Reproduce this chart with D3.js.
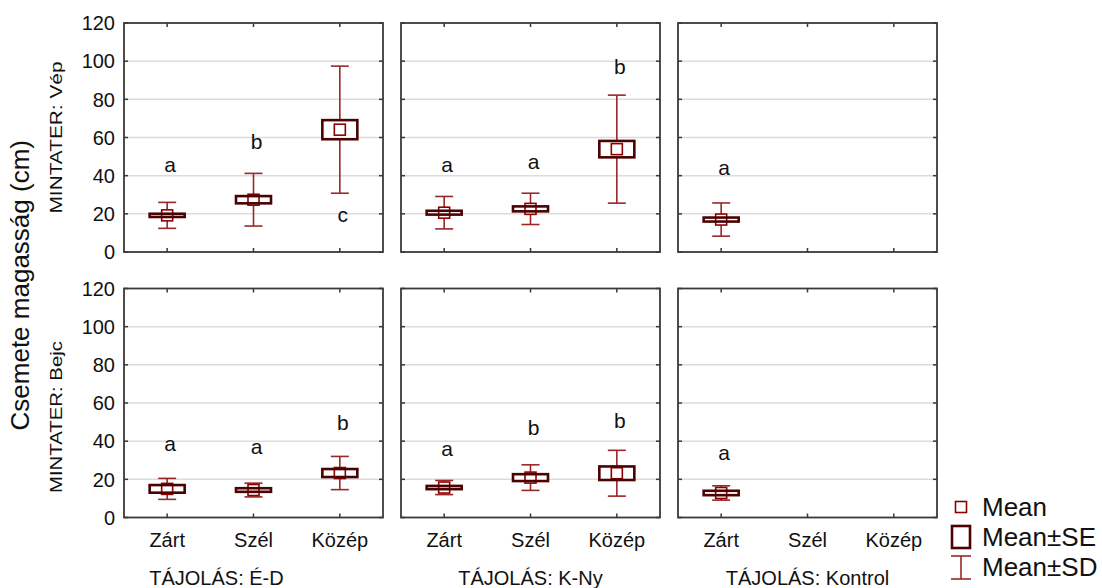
<!DOCTYPE html>
<html><head><meta charset="utf-8">
<script src="https://cdn.jsdelivr.net/npm/d3@7"></script>
<style>
html,body{margin:0;padding:0;background:#fff;}
svg{display:block;font-family:Arial,"Liberation Sans",sans-serif;}
</style>
</head><body>
<svg id="chart" width="1102" height="588"></svg>
<script>
// ---- data ----
const rowNames = ["Vép", "Bejc"];
const colNames = ["É-D", "K-Ny", "Kontrol"];
const categories = ["Zárt", "Szél", "Közép"];
const yTickValues = [0, 20, 40, 60, 80, 100, 120];
const yTitle = "Csemete magasság (cm)";
const rowPrefix = "MINTATER: ";
const colPrefix = "TÁJOLÁS: ";

// [row][col][category]
const means = [
  [[19.2, 27.4, 64.1], [20.6, 22.6, 53.9], [17.0, null, null]],
  [[15.0, 14.4, 23.3], [15.7, 20.9, 23.2], [12.85, null, null]]
];
const seValues = [
  [[0.85, 1.9, 5.0], [1.0, 1.3, 4.3], [1.05, null, null]],
  [[2.0, 0.95, 2.1], [0.85, 1.8, 3.55], [1.15, null, null]]
];
const sdValues = [
  [[6.8, 13.8, 33.3], [8.5, 8.2, 28.3], [8.7, null, null]],
  [[5.5, 3.6, 8.7], [3.7, 6.7, 12.0], [3.75, null, null]]
];
const groupLetters = [
  [["a", "b", "c"], ["a", "a", "b"], ["a", null, null]],
  [["a", "a", "b"], ["a", "b", "b"], ["a", null, null]]
];
const letterValues = [
  [[42.0, 54.0, 15.7], [42.0, 43.7, 93.5], [40.2, null, null]],
  [[34.6, 33.2, 46.0], [32.2, 43.3, 47.1], [30.3, null, null]]
];
const legendLabels = ["Mean", "Mean±SE", "Mean±SD"];

// ---- layout ----
const svg = d3.select("#chart");
const left = 124, panelW = 259, gapX = 18;
const top0 = 23, panelH = 229, gapY = 36.5;
const colX = d3.scaleBand().domain(d3.range(3)).range([left, left + 3 * panelW + 2 * gapX]).paddingInner(gapX / (panelW + gapX));
const rowY = d3.scaleBand().domain(d3.range(2)).range([top0, top0 + 2 * panelH + gapY]).paddingInner(gapY / (panelH + gapY));

const C = {
  frame: "#3a3a3a", grid: "#dcdcdc", box: "#4b0202", whisk: "#9a2828", mean: "#8e0000", text: "#111"
};
const FS = 20;

for (let r = 0; r < 2; r++) {
  for (let c = 0; c < 3; c++) {
    const x0 = colX(c), y0 = rowY(r), w = colX.bandwidth(), h = rowY.bandwidth();
    const g = svg.append("g").attr("transform", `translate(${x0},${y0})`);
    const x = d3.scaleBand().domain(categories).range([0, w]);
    const y = d3.scaleLinear().domain([0, 120]).range([h, 0]);
    const cx = d => x(d) + x.bandwidth() / 2;

    // grid
    g.selectAll("line.grid").data(yTickValues.filter(v => v > 0 && v < 120)).join("line")
      .attr("x1", 0).attr("x2", w).attr("y1", d => y(d)).attr("y2", d => y(d))
      .attr("stroke", C.grid).attr("stroke-width", 1.5);

    // ticks inside on all sides
    const tl = 4;
    g.selectAll("line.yt").data(yTickValues).join("line").attr("class", "yt")
      .attr("x1", 0).attr("x2", tl).attr("y1", d => y(d)).attr("y2", d => y(d))
      .attr("stroke", C.frame).attr("stroke-width", 1.5);
    g.selectAll("line.yt2").data(yTickValues).join("line").attr("class", "yt2")
      .attr("x1", w - tl).attr("x2", w).attr("y1", d => y(d)).attr("y2", d => y(d))
      .attr("stroke", C.frame).attr("stroke-width", 1.5);
    g.selectAll("line.xt").data(categories).join("line").attr("class", "xt")
      .attr("x1", d => cx(d)).attr("x2", d => cx(d)).attr("y1", h).attr("y2", h - tl)
      .attr("stroke", C.frame).attr("stroke-width", 1.5);
    g.selectAll("line.xt2").data(categories).join("line").attr("class", "xt2")
      .attr("x1", d => cx(d)).attr("x2", d => cx(d)).attr("y1", 0).attr("y2", tl)
      .attr("stroke", C.frame).attr("stroke-width", 1.5);

    // frame
    g.append("rect").attr("x", 0).attr("y", 0).attr("width", w).attr("height", h)
      .attr("fill", "none").attr("stroke", C.frame).attr("stroke-width", 1.8);

    // y tick labels on first column
    if (c === 0) {
      g.selectAll("text.yl").data(yTickValues).join("text").attr("class", "yl")
        .attr("x", -9).attr("y", d => y(d)).attr("dy", "0.36em")
        .attr("text-anchor", "end").attr("font-size", FS).attr("fill", C.text)
        .text(d => d);
    }
    // category labels on bottom row
    if (r === 1) {
      g.selectAll("text.xl").data(categories).join("text").attr("class", "xl")
        .attr("x", d => cx(d)).attr("y", h + 29)
        .attr("text-anchor", "middle").attr("font-size", FS).attr("fill", C.text)
        .text(d => d);
      g.append("text").attr("x", w / 2 + (c === 0 ? -37 : 0)).attr("y", h + 67)
        .attr("text-anchor", "middle").attr("font-size", FS).attr("fill", C.text)
        .text(colPrefix + colNames[c]);
    }

    const pts = categories.map((cat, i) => ({
      cat, m: means[r][c][i], se: seValues[r][c][i], sd: sdValues[r][c][i],
      letter: groupLetters[r][c][i], ly: letterValues[r][c][i]
    })).filter(d => d.m != null);

    const boxW = 35, capW = 18, mk = 11;
    // whiskers
    g.selectAll("line.wv").data(pts).join("line").attr("class", "wv")
      .attr("x1", d => cx(d.cat)).attr("x2", d => cx(d.cat))
      .attr("y1", d => y(d.m + d.sd)).attr("y2", d => y(d.m - d.sd))
      .attr("stroke", C.whisk).attr("stroke-width", 1.6);
    ["hi", "lo"].forEach(k => {
      g.selectAll("line.cap" + k).data(pts).join("line").attr("class", "cap" + k)
        .attr("x1", d => cx(d.cat) - capW / 2).attr("x2", d => cx(d.cat) + capW / 2)
        .attr("y1", d => y(k === "hi" ? d.m + d.sd : d.m - d.sd))
        .attr("y2", d => y(k === "hi" ? d.m + d.sd : d.m - d.sd))
        .attr("stroke", C.whisk).attr("stroke-width", 1.6);
    });
    // SE box fill
    g.selectAll("rect.sefill").data(pts).join("rect").attr("class", "sefill")
      .attr("x", d => cx(d.cat) - boxW / 2).attr("width", boxW)
      .attr("y", d => y(d.m + d.se)).attr("height", d => y(d.m - d.se) - y(d.m + d.se))
      .attr("fill", "#fff");
    // mean marker
    g.selectAll("rect.mean").data(pts).join("rect").attr("class", "mean")
      .attr("x", d => cx(d.cat) - mk / 2).attr("y", d => y(d.m) - mk / 2)
      .attr("width", mk).attr("height", mk)
      .attr("fill", "#fff").attr("stroke", C.mean).attr("stroke-width", 1.6);
    // SE box stroke
    g.selectAll("rect.se").data(pts).join("rect").attr("class", "se")
      .attr("x", d => cx(d.cat) - boxW / 2).attr("width", boxW)
      .attr("y", d => y(d.m + d.se)).attr("height", d => y(d.m - d.se) - y(d.m + d.se))
      .attr("fill", "none").attr("stroke", C.box).attr("stroke-width", 2.6);
    // letters
    g.selectAll("text.let").data(pts).join("text").attr("class", "let")
      .attr("x", d => cx(d.cat) + 3).attr("y", d => y(d.ly))
      .attr("text-anchor", "middle").attr("font-size", 21).attr("fill", C.text)
      .text(d => d.letter);
  }
  // row labels
  const rc = rowY(r) + rowY.bandwidth() / 2 + (r === 1 ? 14 : 0);
  svg.append("text").attr("transform", `translate(62,${rc}) rotate(-90)`)
    .attr("text-anchor", "middle").attr("font-size", 17).attr("fill", C.text)
    .attr("textLength", 152).attr("lengthAdjust", "spacingAndGlyphs")
    .text(rowPrefix + rowNames[r]);
}
// y title
svg.append("text").attr("transform", `translate(29,${(rowY(0) + rowY(1) + rowY.bandwidth()) / 2 + 15}) rotate(-90)`)
  .attr("text-anchor", "middle").attr("font-size", 26).attr("fill", C.text)
  .text(yTitle);

// legend
const lg = svg.append("g").attr("transform", "translate(961,0)");
const ly = d3.scalePoint().domain(legendLabels).range([507, 567]);
lg.append("rect").attr("x", -5.5).attr("y", ly("Mean") - 5.5).attr("width", 11).attr("height", 11)
  .attr("fill", "#fff").attr("stroke", C.mean).attr("stroke-width", 1.6);
lg.append("rect").attr("x", -9).attr("y", ly("Mean±SE") - 11).attr("width", 18).attr("height", 22)
  .attr("fill", "#fff").attr("stroke", C.box).attr("stroke-width", 2.6);
const sy = ly("Mean±SD");
lg.append("line").attr("x1", 0).attr("x2", 0).attr("y1", sy - 11).attr("y2", sy + 12).attr("stroke", C.whisk).attr("stroke-width", 1.6);
lg.append("line").attr("x1", -10).attr("x2", 10).attr("y1", sy - 11).attr("y2", sy - 11).attr("stroke", C.whisk).attr("stroke-width", 1.6);
lg.append("line").attr("x1", -10).attr("x2", 10).attr("y1", sy + 12).attr("y2", sy + 12).attr("stroke", C.whisk).attr("stroke-width", 1.6);
lg.selectAll("text").data(legendLabels).join("text")
  .attr("x", 21).attr("y", d => ly(d)).attr("dy", "0.36em")
  .attr("font-size", 26).attr("fill", C.text).text(d => d);
</script>
</body></html>
